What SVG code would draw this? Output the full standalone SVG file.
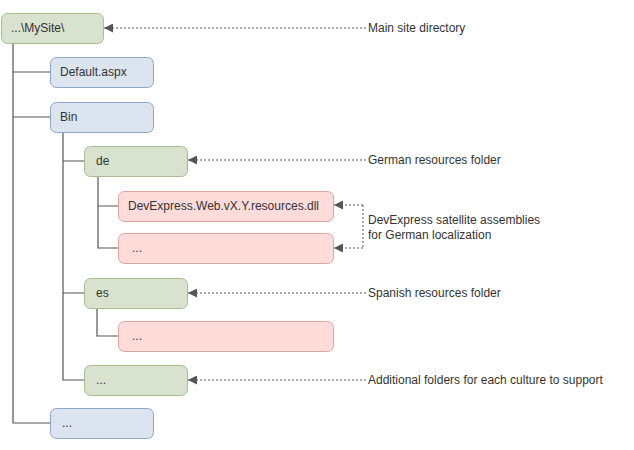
<svg xmlns="http://www.w3.org/2000/svg" width="634" height="450" viewBox="0 0 634 450">
<style>
text{font-family:"Liberation Sans",Arial,sans-serif;font-size:12px;fill:#333;dominant-baseline:central}
.g{fill:#d9e2cf;stroke:#a6bd8f;stroke-width:1}
.b{fill:#dce4ef;stroke:#8ea6c8;stroke-width:1}
.p{fill:#ffdcd9;stroke:#dba6a2;stroke-width:1}
.t{stroke:#555;stroke-width:1.2;fill:none}
.d{stroke:#555;stroke-width:1;fill:none;stroke-dasharray:2 2;marker-end:url(#ah)}
.d2{stroke:#555;stroke-width:1;fill:none;stroke-dasharray:2 2}
</style>
<defs>
<marker id="ah" viewBox="0 0 10 10" refX="10" refY="5" markerWidth="9" markerHeight="9" markerUnits="userSpaceOnUse" orient="auto">
<path d="M0,0L10,5L0,10z" fill="#555"/>
</marker>
</defs>
<g id="connectors">
<path class="t" d="M13,43V423H50M13,72H50M13,117H50"/>
<path class="t" d="M63,132V380H84M63,161H84M63,293H84"/>
<path class="t" d="M98,176V248H119M98,206H119"/>
<path class="t" d="M97,308V336H118"/>
<path class="d" d="M366,28H104"/>
<path class="d" d="M366,160H188"/>
<path class="d2" d="M363,205V248"/>
<path class="d" d="M363,205H334"/>
<path class="d" d="M363,248H334"/>
<path class="d" d="M366,293H188"/>
<path class="d" d="M366,380H188"/>
</g>
<g id="root"><rect class="g" x="1.5" y="13.5" width="102" height="30" rx="6"/><text x="11" y="28">...\MySite\</text></g>
<g id="default"><rect class="b" x="50.5" y="57.5" width="103" height="30" rx="6"/><text x="60" y="72">Default.aspx</text></g>
<g id="bin"><rect class="b" x="50.5" y="102.5" width="103" height="30" rx="6"/><text x="60" y="117">Bin</text></g>
<g id="de"><rect class="g" x="84.5" y="146.5" width="103" height="30" rx="6"/><text x="96" y="161">de</text></g>
<g id="dll"><rect class="p" x="118.5" y="191.5" width="215" height="30" rx="6"/><text x="128" y="206">DevExpress.Web.vX.Y.resources.dll</text></g>
<g id="de-more"><rect class="p" x="118.5" y="233.5" width="215" height="30" rx="6"/><text x="132" y="248">...</text></g>
<g id="es"><rect class="g" x="84.5" y="278.5" width="103" height="30" rx="6"/><text x="96" y="293">es</text></g>
<g id="es-more"><rect class="p" x="118.5" y="321.5" width="215" height="30" rx="6"/><text x="132" y="336">...</text></g>
<g id="culture-more"><rect class="g" x="84.5" y="365.5" width="103" height="30" rx="6"/><text x="96" y="380">...</text></g>
<g id="site-more"><rect class="b" x="50.5" y="408.5" width="103" height="30" rx="6"/><text x="62" y="423">...</text></g>
<g id="labels">
<text x="368" y="28">Main site directory</text>
<text x="368" y="160">German resources folder</text>
<text x="368" y="220">DevExpress satellite assemblies</text>
<text x="368" y="235">for German localization</text>
<text x="368" y="293">Spanish resources folder</text>
<text x="368" y="380">Additional folders for each culture to support</text>
</g>
</svg>
